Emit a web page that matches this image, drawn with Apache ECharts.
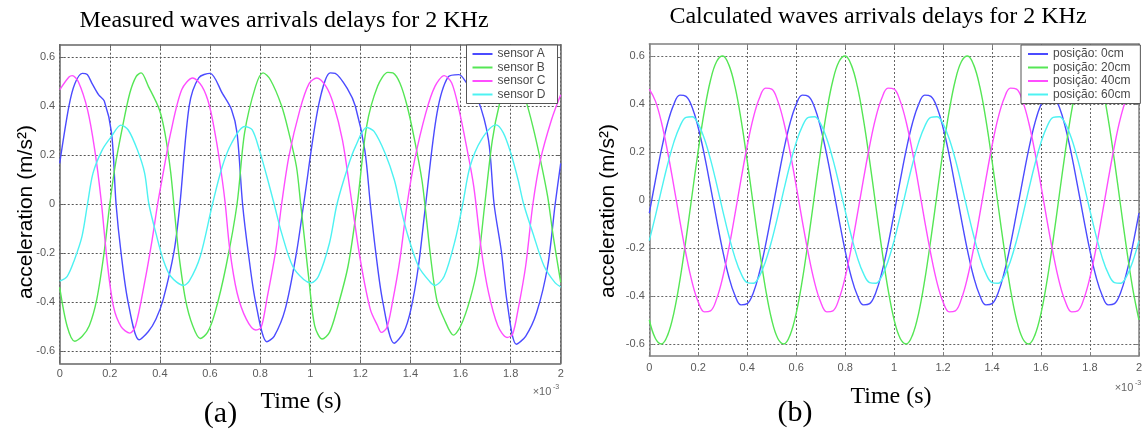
<!DOCTYPE html>
<html><head><meta charset="utf-8">
<script src="https://cdn.jsdelivr.net/npm/echarts@6/dist/echarts.min.js"></script>
<style>html,body{margin:0;padding:0;background:#fff}#c{width:1145px;height:436px}</style>
</head><body><div id="c"></div>
<script>
// ---- tick values ----
const yTicks = [-0.6, -0.4, -0.2, 0, 0.2, 0.4, 0.6];

// ---- (a) measured, [time (ms), acceleration] ----
const sensorA = [[0,0.166],[0.037,0.4],[0.06,0.49],[0.09,0.533],[0.11,0.528],[0.13,0.49],[0.155,0.446],[0.178,0.42],[0.207,0.29],[0.225,0],[0.245,-0.2],[0.273,-0.4],[0.317,-0.554],[0.354,-0.52],[0.384,-0.47],[0.413,-0.39],[0.457,-0.19],[0.48,0],[0.517,0.4],[0.555,0.515],[0.6,0.533],[0.65,0.45],[0.686,0.385],[0.708,0.29],[0.73,0],[0.753,-0.2],[0.782,-0.4],[0.827,-0.562],[0.856,-0.54],[0.9,-0.43],[0.945,-0.2],[0.974,0],[1.033,0.4],[1.08,0.535],[1.1,0.533],[1.151,0.466],[1.18,0.4],[1.218,0.22],[1.24,0],[1.262,-0.2],[1.29,-0.4],[1.335,-0.568],[1.373,-0.524],[1.402,-0.43],[1.432,-0.254],[1.461,0],[1.506,0.37],[1.55,0.518],[1.594,0.528],[1.624,0.494],[1.668,0.43],[1.712,0.26],[1.734,0],[1.764,-0.2],[1.786,-0.4],[1.823,-0.572],[1.86,-0.54],[1.904,-0.443],[1.948,-0.254],[1.978,0],[2,0.166]];
const sensorB = [[0,-0.34],[0.03,-0.5],[0.06,-0.56],[0.09,-0.54],[0.118,-0.497],[0.148,-0.389],[0.177,-0.2],[0.2,0],[0.221,0.153],[0.251,0.316],[0.28,0.453],[0.305,0.52],[0.325,0.535],[0.354,0.48],[0.398,0.385],[0.42,0.29],[0.443,0.13],[0.46,-0.05],[0.475,-0.2],[0.502,-0.389],[0.531,-0.497],[0.561,-0.549],[0.59,-0.524],[0.62,-0.443],[0.664,-0.254],[0.708,0],[0.738,0.29],[0.782,0.48],[0.812,0.535],[0.841,0.507],[0.886,0.4],[0.915,0.29],[0.945,0.153],[0.962,0],[0.978,-0.15],[0.996,-0.32],[1.018,-0.497],[1.048,-0.551],[1.077,-0.524],[1.107,-0.43],[1.151,-0.254],[1.188,0],[1.225,0.316],[1.269,0.48],[1.31,0.537],[1.33,0.535],[1.358,0.494],[1.387,0.4],[1.417,0.26],[1.446,0.098],[1.462,-0.04],[1.48,-0.21],[1.505,-0.389],[1.535,-0.47],[1.572,-0.535],[1.601,-0.497],[1.638,-0.389],[1.668,-0.254],[1.697,0],[1.727,0.26],[1.756,0.41],[1.79,0.52],[1.81,0.53],[1.835,0.49],[1.86,0.425],[1.889,0.316],[1.919,0.18],[1.948,0.03],[1.97,-0.13],[2,-0.32]];
const sensorC = [[0,0.466],[0.037,0.518],[0.05,0.524],[0.074,0.5],[0.111,0.385],[0.14,0.22],[0.165,0.02],[0.19,-0.24],[0.215,-0.42],[0.245,-0.5],[0.28,-0.527],[0.303,-0.497],[0.339,-0.32],[0.369,-0.146],[0.391,0],[0.413,0.126],[0.443,0.29],[0.487,0.466],[0.531,0.514],[0.568,0.48],[0.598,0.4],[0.627,0.248],[0.649,0.098],[0.661,0],[0.679,-0.186],[0.708,-0.362],[0.745,-0.47],[0.782,-0.514],[0.804,-0.504],[0.827,-0.389],[0.863,-0.186],[0.886,0],[0.915,0.194],[0.959,0.385],[0.995,0.49],[1.026,0.514],[1.063,0.48],[1.092,0.41],[1.129,0.26],[1.16,0.05],[1.2,-0.227],[1.24,-0.43],[1.269,-0.497],[1.284,-0.524],[1.306,-0.504],[1.328,-0.403],[1.358,-0.227],[1.387,0],[1.417,0.18],[1.461,0.37],[1.498,0.48],[1.535,0.524],[1.565,0.494],[1.594,0.385],[1.624,0.235],[1.653,0.071],[1.683,-0.186],[1.712,-0.362],[1.749,-0.497],[1.786,-0.545],[1.808,-0.531],[1.83,-0.43],[1.86,-0.254],[1.889,0],[1.919,0.18],[1.963,0.343],[2,0.446]];
const sensorD = [[0,-0.315],[0.03,-0.295],[0.059,-0.227],[0.089,-0.132],[0.111,0],[0.133,0.126],[0.17,0.221],[0.207,0.276],[0.244,0.322],[0.273,0.303],[0.31,0.221],[0.339,0.126],[0.356,0],[0.384,-0.119],[0.413,-0.227],[0.443,-0.295],[0.494,-0.332],[0.517,-0.315],[0.561,-0.214],[0.61,0],[0.649,0.153],[0.686,0.248],[0.738,0.316],[0.768,0.303],[0.797,0.221],[0.827,0.112],[0.856,0],[0.886,-0.119],[0.93,-0.254],[0.974,-0.308],[1.004,-0.322],[1.033,-0.295],[1.077,-0.159],[1.107,0],[1.151,0.153],[1.181,0.235],[1.225,0.312],[1.255,0.296],[1.299,0.207],[1.336,0.098],[1.358,0],[1.387,-0.119],[1.432,-0.254],[1.476,-0.315],[1.498,-0.332],[1.535,-0.295],[1.579,-0.146],[1.609,0],[1.638,0.153],[1.683,0.262],[1.742,0.323],[1.771,0.29],[1.801,0.207],[1.83,0.098],[1.852,0],[1.889,-0.119],[1.934,-0.254],[1.978,-0.322],[2,-0.338]];

// ---- (b) calculated, sampled every 0.025 ms ----
const calcTime = [0,0.025,0.05,0.075,0.1,0.125,0.15,0.175,0.2,0.225,0.25,0.275,0.3,0.325,0.35,0.375,0.4,0.425,0.45,0.475,0.5,0.525,0.55,0.575,0.6,0.625,0.65,0.675,0.7,0.725,0.75,0.775,0.8,0.825,0.85,0.875,0.9,0.925,0.95,0.975,1,1.025,1.05,1.075,1.1,1.125,1.15,1.175,1.2,1.225,1.25,1.275,1.3,1.325,1.35,1.375,1.4,1.425,1.45,1.475,1.5,1.525,1.55,1.575,1.6,1.625,1.65,1.675,1.7,1.725,1.75,1.775,1.8,1.825,1.85,1.875,1.9,1.925,1.95,1.975,2];
const pos0 = [
 -0.055,0.082,0.212,0.321,0.398,0.437,0.432,0.386,0.301,0.187,0.055,-0.082,-0.212,-0.321,-0.398,-0.437,-0.432,-0.386,-0.301,-0.187,
 -0.055,0.082,0.212,0.321,0.398,0.437,0.432,0.386,0.301,0.187,0.055,-0.082,-0.212,-0.321,-0.398,-0.437,-0.432,-0.386,-0.301,-0.187,
 -0.055,0.082,0.212,0.321,0.398,0.437,0.432,0.386,0.301,0.187,0.055,-0.082,-0.212,-0.321,-0.398,-0.437,-0.432,-0.386,-0.301,-0.187,
 -0.055,0.082,0.212,0.321,0.398,0.437,0.432,0.386,0.301,0.187,0.055,-0.082,-0.212,-0.321,-0.398,-0.437,-0.432,-0.386,-0.301,-0.187,
 -0.055];
const pos20 = [
 -0.499,-0.577,-0.600,-0.563,-0.472,-0.334,-0.163,0.023,0.207,0.371,0.499,0.577,0.600,0.563,0.472,0.334,0.163,-0.023,-0.207,-0.371,
 -0.499,-0.577,-0.600,-0.563,-0.472,-0.334,-0.163,0.023,0.207,0.371,0.499,0.577,0.600,0.563,0.472,0.334,0.163,-0.023,-0.207,-0.371,
 -0.499,-0.577,-0.600,-0.563,-0.472,-0.334,-0.163,0.023,0.207,0.371,0.499,0.577,0.600,0.563,0.472,0.334,0.163,-0.023,-0.207,-0.371,
 -0.499,-0.577,-0.600,-0.563,-0.472,-0.334,-0.163,0.023,0.207,0.371,0.499,0.577,0.600,0.563,0.472,0.334,0.163,-0.023,-0.207,-0.371,
 -0.499];
const pos40 = [
 0.462,0.412,0.322,0.200,0.059,-0.088,-0.226,-0.343,-0.425,-0.466,-0.462,-0.412,-0.322,-0.200,-0.059,0.088,0.226,0.343,0.425,0.466,
 0.462,0.412,0.322,0.200,0.059,-0.088,-0.226,-0.343,-0.425,-0.466,-0.462,-0.412,-0.322,-0.200,-0.059,0.088,0.226,0.343,0.425,0.466,
 0.462,0.412,0.322,0.200,0.059,-0.088,-0.226,-0.343,-0.425,-0.466,-0.462,-0.412,-0.322,-0.200,-0.059,0.088,0.226,0.343,0.425,0.466,
 0.462,0.412,0.322,0.200,0.059,-0.088,-0.226,-0.343,-0.425,-0.466,-0.462,-0.412,-0.322,-0.200,-0.059,0.088,0.226,0.343,0.425,0.466,
 0.462];
const pos60 = [
 -0.169,-0.066,0.044,0.149,0.240,0.307,0.344,0.347,0.317,0.255,0.169,0.066,-0.044,-0.149,-0.240,-0.307,-0.344,-0.347,-0.317,-0.255,
 -0.169,-0.066,0.044,0.149,0.240,0.307,0.344,0.347,0.317,0.255,0.169,0.066,-0.044,-0.149,-0.240,-0.307,-0.344,-0.347,-0.317,-0.255,
 -0.169,-0.066,0.044,0.149,0.240,0.307,0.344,0.347,0.317,0.255,0.169,0.066,-0.044,-0.149,-0.240,-0.307,-0.344,-0.347,-0.317,-0.255,
 -0.169,-0.066,0.044,0.149,0.240,0.307,0.344,0.347,0.317,0.255,0.169,0.066,-0.044,-0.149,-0.240,-0.307,-0.344,-0.347,-0.317,-0.255,
 -0.169];

const namesA = ['sensor A','sensor B','sensor C','sensor D'];
const namesB = ['posição: 0cm','posição: 20cm','posição: 40cm','posição: 60cm'];
const colors = ['#4b4bff','#55e655','#ff4dff','#4df2f2'];

const SANS = '"Liberation Sans", Arial, sans-serif';
const SERIF = '"Liberation Serif", "Times New Roman", serif';

function xAxes(g, border, gridCol, margin) {
  return [
    {type:'value', gridIndex:g, min:0, max:2, interval:0.2, position:'bottom',
     axisLine:{show:true,onZero:false,lineStyle:{color:border,width:1.5}},
     axisTick:{show:true,inside:true,length:4,lineStyle:{color:border}},
     axisLabel:{color:'#5a5a5a',fontSize:11,fontFamily:SANS,margin:margin},
     splitLine:{show:true,lineStyle:{type:[2,2],color:gridCol,width:1}}},
    {type:'value', gridIndex:g, min:0, max:2, interval:0.2, position:'top',
     axisLine:{show:true,onZero:false,lineStyle:{color:border,width:1.5}},
     axisTick:{show:true,inside:true,length:4,lineStyle:{color:border}},
     axisLabel:{show:false}, splitLine:{show:false}}
  ];
}
function yAxes(g, border, gridCol) {
  return [
    {type:'value', gridIndex:g, min:-0.65, max:0.65, position:'left',
     axisLine:{show:true,onZero:false,lineStyle:{color:border,width:1.5}},
     axisTick:{show:true,inside:true,length:4,customValues:yTicks,lineStyle:{color:border}},
     axisLabel:{customValues:yTicks,color:'#5a5a5a',fontSize:11,fontFamily:SANS,margin:4.5},
     splitLine:{show:true,lineStyle:{type:[2,2],color:gridCol,width:1}}},
    {type:'value', gridIndex:g, min:-0.65, max:0.65, position:'right',
     axisLine:{show:true,onZero:false,lineStyle:{color:border,width:1.5}},
     axisTick:{show:true,inside:true,length:4,customValues:yTicks,lineStyle:{color:border}},
     axisLabel:{show:false}, splitLine:{show:false}}
  ];
}

const seriesA = [sensorA, sensorB, sensorC, sensorD].map((d, i) => ({
  name: namesA[i], type:'line', xAxisIndex:0, yAxisIndex:0, data:d,
  showSymbol:false, smooth:0.3, lineStyle:{color:colors[i],width:1.4}, itemStyle:{color:colors[i]}
}));
const seriesB = [pos0, pos20, pos40, pos60].map((vals, i) => ({
  name: namesB[i], type:'line', xAxisIndex:2, yAxisIndex:2,
  data: calcTime.map((t, k) => [t, vals[k]]),
  showSymbol:false, smooth:0.4, lineStyle:{color:colors[i],width:1.4}, itemStyle:{color:colors[i]}
}));

function legend(names, left, pad) {
  return {data:names, left:left, top:45, orient:'vertical', icon:'rect',
    itemWidth:20, itemHeight:2, itemGap:1.5, padding:pad,
    backgroundColor:'#fff', borderColor:'#555', borderWidth:1, selectedMode:false,
    textStyle:{fontSize:12, color:'#4a4a4a', fontFamily:SANS, lineHeight:12}};
}

function txt(x, y, text, font, extra, fill) {
  return Object.assign({type:'text', x:x, y:y, silent:true,
    style:{text:text, font:font, fill:fill || '#000', align:'center', verticalAlign:'middle'}}, extra || {});
}

const chart = echarts.init(document.getElementById('c'), null, {renderer:'canvas'});
chart.setOption({
  animation:false,
  backgroundColor:'#fff',
  grid:[
    {left:59.7, top:44.7, width:501, height:318.6, containLabel:false},
    {left:649.3, top:44, width:494, height:312, containLabel:false}
  ],
  xAxis:[...xAxes(0,'#666','#555',5), ...xAxes(1,'#808080','#666',6.5)],
  yAxis:[...yAxes(0,'#666','#555'), ...yAxes(1,'#808080','#666')],
  legend:[legend(namesA, 466.5, [3,12,3,6]), legend(namesB, 1021, [3,10,3,7])],
  series:[...seriesA, ...seriesB],
  graphic:[
    txt(284, 20.5, 'Measured waves arrivals delays for 2 KHz', '24px ' + SERIF),
    txt(878, 16.5, 'Calculated waves arrivals delays for 2 KHz', '24px ' + SERIF),
    txt(26, 212, 'acceleration (m/s²)', '21px ' + SANS, {rotation:Math.PI/2}),
    txt(608, 211, 'acceleration (m/s²)', '21px ' + SANS, {rotation:Math.PI/2}),
    txt(301, 402, 'Time (s)', '24px ' + SERIF),
    txt(891, 397, 'Time (s)', '24px ' + SERIF),
    txt(220.5, 414, '(a)', '30px ' + SERIF),
    txt(795, 413, '(b)', '30px ' + SERIF),
    txt(542, 392, '×10', '11px ' + SANS, null, '#666'),
    txt(556, 387, '-3', '7px ' + SANS, null, '#666'),
    txt(1124, 388, '×10', '11px ' + SANS, null, '#666'),
    txt(1138, 383, '-3', '7px ' + SANS, null, '#666')
  ]
});
</script></body></html>
